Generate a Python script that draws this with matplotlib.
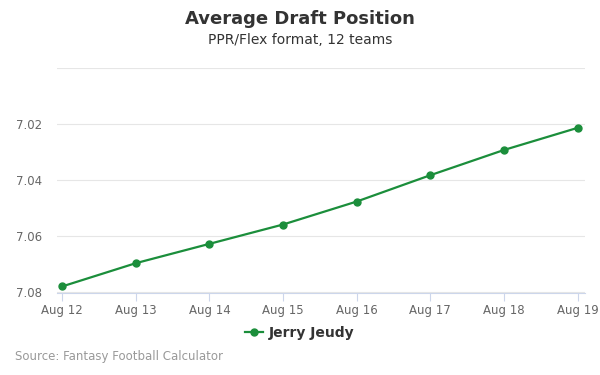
import matplotlib
matplotlib.use('Agg')
import matplotlib.pyplot as plt

dates = ['Aug 12', 'Aug 13', 'Aug 14', 'Aug 15', 'Aug 16', 'Aug 17', 'Aug 18', 'Aug 19']
adp = [7.078, 7.0697, 7.0628, 7.0559, 7.0477, 7.0383, 7.0293, 7.0214]
yticks = [7.00, 7.02, 7.04, 7.06, 7.08]
ylabels = ['', '7.02', '7.04', '7.06', '7.08']

green = '#1b8e3b'

fig = plt.figure(figsize=(6, 3.75), dpi=100)
ax = fig.add_axes([0.095, 0.219, 0.88, 0.6])

x = list(range(len(dates)))
ax.plot(x, adp, color=green, linewidth=1.6, marker='o', markersize=5,
        label='Jerry Jeudy', zorder=3)

ax.set_xlim(-0.07, 7.1)
ax.set_ylim(7.0803, 7.0)
ax.set_xticks(x)
ax.set_xticklabels(dates)
ax.set_yticks(yticks)
ax.set_yticklabels(ylabels)

ax.grid(axis='y', color='#e6e6e6', linewidth=0.8)
ax.set_axisbelow(True)
for s in ['top', 'right', 'left']:
    ax.spines[s].set_visible(False)
ax.spines['bottom'].set_color('#ccd6eb')
ax.tick_params(axis='x', colors='#ccd6eb', length=6, width=0.8, labelcolor='#666666', labelsize=8.5, pad=2)
ax.tick_params(axis='y', length=0, labelcolor='#666666', labelsize=8.5, pad=11)

fig.text(0.5, 0.948, 'Average Draft Position', ha='center', va='center',
         fontsize=13, fontweight='bold', color='#333333')
fig.text(0.5, 0.892, 'PPR/Flex format, 12 teams', ha='center', va='center',
         fontsize=10, color='#333333')

leg = fig.legend(loc='center', bbox_to_anchor=(0.5, 0.112), frameon=False,
                 prop={'weight': 'bold', 'size': 10}, handlelength=1.3,
                 handletextpad=0.4)
for t in leg.get_texts():
    t.set_color('#333333')

fig.text(0.025, 0.05, 'Source: Fantasy Football Calculator', ha='left', va='center',
         fontsize=8.5, color='#999999')

fig.savefig('out.png', dpi=100)
